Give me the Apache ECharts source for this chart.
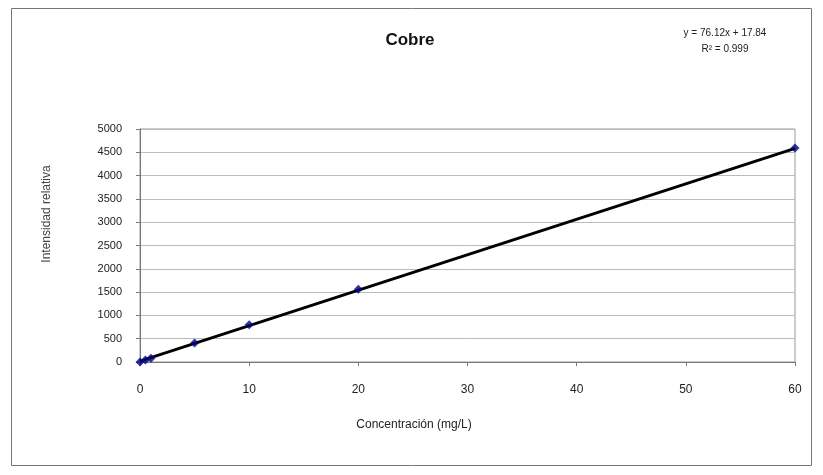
<!DOCTYPE html>
<html><head><meta charset="utf-8">
<script src="https://cdn.jsdelivr.net/npm/echarts@6/dist/echarts.min.js"></script>
<style>html,body{margin:0;padding:0;background:#fff}#c{width:823px;height:475px}</style>
</head><body><div id="c"></div>
<script>
const concentrations = [0, 0.5, 1, 5, 10, 20, 60];
const intensities = [0, 45, 80, 410, 800, 1560, 4590];
const slope = 76.12, intercept = 17.84;
const rSquared = '0.999';
const trendX = [0, 60];
const yTicks = [0,500,1000,1500,2000,2500,3000,3500,4000,4500,5000];
const xTicks = [0,10,20,30,40,50,60];

const chart = echarts.init(document.getElementById('c'));
const font = 'Liberation Sans, Arial, sans-serif';
chart.setOption({
  animation: false,
  backgroundColor: '#fff',
  title: { text: 'Cobre', left: 405, top: 27, textAlign: 'center',
    textStyle: { fontFamily: font, fontSize: 17, fontWeight: 'bold', color: '#111' } },
  graphic: [
    { type: 'rect', shape: { x: 11.5, y: 8.5, width: 800, height: 457 }, style: { fill: 'none', stroke: '#777', lineWidth: 1 }, silent: true, z: -1 },
    { type: 'text', x: 725, y: 33, style: { text: 'y = ' + slope + 'x + ' + intercept, align: 'center', verticalAlign: 'middle', fontFamily: font, fontSize: 10, fill: '#222' } },
    { type: 'text', x: 725, y: 49, style: { text: 'R² = ' + rSquared, align: 'center', verticalAlign: 'middle', fontFamily: font, fontSize: 10, fill: '#222' } },
    { type: 'text', x: 414, y: 425, style: { text: 'Concentración (mg/L)', align: 'center', verticalAlign: 'middle', fontFamily: font, fontSize: 12, fill: '#222' } },
    { type: 'text', x: 47, y: 214, rotation: Math.PI / 2, style: { text: 'Intensidad relativa', align: 'center', verticalAlign: 'middle', fontFamily: font, fontSize: 12, fill: '#444' } }
  ],
  grid: { left: 140, right: 28, top: 129, bottom: 113, show: true, borderColor: '#999', borderWidth: 1, backgroundColor: '#fff' },
  xAxis: { type: 'value', min: xTicks[0], max: xTicks[xTicks.length-1], interval: 10,
    axisLine: { lineStyle: { color: '#777' } }, axisTick: { show: true, length: 4, lineStyle: { color: '#777' } },
    axisLabel: { fontFamily: font, fontSize: 12, color: '#222', margin: 22 }, splitLine: { show: false } },
  yAxis: { type: 'value', min: yTicks[0], max: yTicks[yTicks.length-1], interval: 500,
    axisLine: { show: true, lineStyle: { color: '#777' } }, axisTick: { show: true, length: 4, lineStyle: { color: '#777' } },
    axisLabel: { fontFamily: font, fontSize: 11, color: '#222', margin: 18, formatter: v => String(v) },
    splitLine: { show: true, lineStyle: { color: '#bbb', width: 1 } } },
  series: [
    { type: 'line', data: trendX.map(x => [x, slope*x + intercept]), symbol: 'none',
      lineStyle: { color: '#000', width: 3 }, z: 3 },
    { type: 'scatter', data: concentrations.map((x,i) => [x, intensities[i]]),
      symbol: 'diamond', symbolSize: 9, itemStyle: { color: '#000080' }, z: 4 }
  ]
});
</script></body></html>
